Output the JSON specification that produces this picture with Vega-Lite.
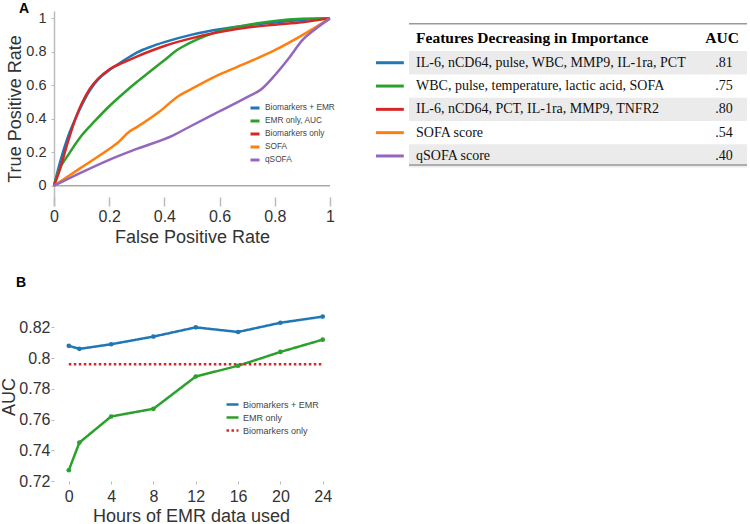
{
  "$schema": "https://vega.github.io/schema/vega-lite/v6.json",
  "padding": {"left": 0, "top": 2, "right": 0, "bottom": 0},
  "background": "white",
  "config": {
    "view": {"stroke": null},
    "font": "Liberation Sans",
    "axis": {"labelColor": "#333", "titleColor": "#333", "labelFont": "Liberation Sans", "titleFont": "Liberation Sans", "titleFontWeight": "normal", "grid": false, "labelFontSize": 16, "titleFontSize": 18, "labelOverlap": false},
    "title": {"fontSize": 14, "fontWeight": "bold", "anchor": "start", "frame": "group", "color": "#000", "font": "Liberation Sans"}
  },
  "datasets": {
    "roc": [
      {"model": "Biomarkers + EMR", "fpr": 0, "tpr": 0},
      {"model": "Biomarkers + EMR", "fpr": 0.02, "tpr": 0.13},
      {"model": "Biomarkers + EMR", "fpr": 0.05, "tpr": 0.29},
      {"model": "Biomarkers + EMR", "fpr": 0.08, "tpr": 0.41},
      {"model": "Biomarkers + EMR", "fpr": 0.1, "tpr": 0.48},
      {"model": "Biomarkers + EMR", "fpr": 0.13, "tpr": 0.57},
      {"model": "Biomarkers + EMR", "fpr": 0.16, "tpr": 0.635},
      {"model": "Biomarkers + EMR", "fpr": 0.2, "tpr": 0.69},
      {"model": "Biomarkers + EMR", "fpr": 0.25, "tpr": 0.745},
      {"model": "Biomarkers + EMR", "fpr": 0.3, "tpr": 0.795},
      {"model": "Biomarkers + EMR", "fpr": 0.35, "tpr": 0.83},
      {"model": "Biomarkers + EMR", "fpr": 0.4, "tpr": 0.858},
      {"model": "Biomarkers + EMR", "fpr": 0.5, "tpr": 0.903},
      {"model": "Biomarkers + EMR", "fpr": 0.6, "tpr": 0.935},
      {"model": "Biomarkers + EMR", "fpr": 0.7, "tpr": 0.958},
      {"model": "Biomarkers + EMR", "fpr": 0.8, "tpr": 0.976},
      {"model": "Biomarkers + EMR", "fpr": 0.9, "tpr": 0.99},
      {"model": "Biomarkers + EMR", "fpr": 1, "tpr": 1},
      {"model": "EMR only, AUC", "fpr": 0, "tpr": 0},
      {"model": "EMR only, AUC", "fpr": 0.02, "tpr": 0.1},
      {"model": "EMR only, AUC", "fpr": 0.05, "tpr": 0.18},
      {"model": "EMR only, AUC", "fpr": 0.1, "tpr": 0.3},
      {"model": "EMR only, AUC", "fpr": 0.15, "tpr": 0.39},
      {"model": "EMR only, AUC", "fpr": 0.2, "tpr": 0.475},
      {"model": "EMR only, AUC", "fpr": 0.25, "tpr": 0.55},
      {"model": "EMR only, AUC", "fpr": 0.3, "tpr": 0.62},
      {"model": "EMR only, AUC", "fpr": 0.35, "tpr": 0.685},
      {"model": "EMR only, AUC", "fpr": 0.4, "tpr": 0.75},
      {"model": "EMR only, AUC", "fpr": 0.45, "tpr": 0.815},
      {"model": "EMR only, AUC", "fpr": 0.5, "tpr": 0.86},
      {"model": "EMR only, AUC", "fpr": 0.55, "tpr": 0.895},
      {"model": "EMR only, AUC", "fpr": 0.6, "tpr": 0.925},
      {"model": "EMR only, AUC", "fpr": 0.7, "tpr": 0.96},
      {"model": "EMR only, AUC", "fpr": 0.8, "tpr": 0.985},
      {"model": "EMR only, AUC", "fpr": 0.9, "tpr": 0.997},
      {"model": "EMR only, AUC", "fpr": 1, "tpr": 1},
      {"model": "Biomarkers only", "fpr": 0, "tpr": 0},
      {"model": "Biomarkers only", "fpr": 0.02, "tpr": 0.09},
      {"model": "Biomarkers only", "fpr": 0.05, "tpr": 0.26},
      {"model": "Biomarkers only", "fpr": 0.08, "tpr": 0.41},
      {"model": "Biomarkers only", "fpr": 0.1, "tpr": 0.49},
      {"model": "Biomarkers only", "fpr": 0.13, "tpr": 0.58},
      {"model": "Biomarkers only", "fpr": 0.16, "tpr": 0.64},
      {"model": "Biomarkers only", "fpr": 0.2, "tpr": 0.695},
      {"model": "Biomarkers only", "fpr": 0.25, "tpr": 0.735},
      {"model": "Biomarkers only", "fpr": 0.3, "tpr": 0.772},
      {"model": "Biomarkers only", "fpr": 0.35, "tpr": 0.805},
      {"model": "Biomarkers only", "fpr": 0.4, "tpr": 0.835},
      {"model": "Biomarkers only", "fpr": 0.5, "tpr": 0.882},
      {"model": "Biomarkers only", "fpr": 0.6, "tpr": 0.918},
      {"model": "Biomarkers only", "fpr": 0.7, "tpr": 0.945},
      {"model": "Biomarkers only", "fpr": 0.8, "tpr": 0.962},
      {"model": "Biomarkers only", "fpr": 0.9, "tpr": 0.977},
      {"model": "Biomarkers only", "fpr": 1, "tpr": 1},
      {"model": "SOFA", "fpr": 0, "tpr": 0},
      {"model": "SOFA", "fpr": 0.1, "tpr": 0.11},
      {"model": "SOFA", "fpr": 0.2, "tpr": 0.22},
      {"model": "SOFA", "fpr": 0.23, "tpr": 0.255},
      {"model": "SOFA", "fpr": 0.27, "tpr": 0.32},
      {"model": "SOFA", "fpr": 0.3, "tpr": 0.35},
      {"model": "SOFA", "fpr": 0.38, "tpr": 0.44},
      {"model": "SOFA", "fpr": 0.45, "tpr": 0.535},
      {"model": "SOFA", "fpr": 0.5, "tpr": 0.58},
      {"model": "SOFA", "fpr": 0.6, "tpr": 0.665},
      {"model": "SOFA", "fpr": 0.7, "tpr": 0.735},
      {"model": "SOFA", "fpr": 0.8, "tpr": 0.81},
      {"model": "SOFA", "fpr": 0.9, "tpr": 0.9},
      {"model": "SOFA", "fpr": 1, "tpr": 1},
      {"model": "qSOFA", "fpr": 0, "tpr": 0},
      {"model": "qSOFA", "fpr": 0.1, "tpr": 0.08},
      {"model": "qSOFA", "fpr": 0.2, "tpr": 0.155},
      {"model": "qSOFA", "fpr": 0.3, "tpr": 0.22},
      {"model": "qSOFA", "fpr": 0.43, "tpr": 0.3},
      {"model": "qSOFA", "fpr": 0.5, "tpr": 0.36},
      {"model": "qSOFA", "fpr": 0.6, "tpr": 0.445},
      {"model": "qSOFA", "fpr": 0.7, "tpr": 0.53},
      {"model": "qSOFA", "fpr": 0.75, "tpr": 0.575},
      {"model": "qSOFA", "fpr": 0.8, "tpr": 0.66},
      {"model": "qSOFA", "fpr": 0.85, "tpr": 0.76},
      {"model": "qSOFA", "fpr": 0.9, "tpr": 0.87},
      {"model": "qSOFA", "fpr": 0.95, "tpr": 0.94},
      {"model": "qSOFA", "fpr": 1, "tpr": 1}
    ],
    "hours": [
      {"model": "Biomarkers + EMR", "hour": 0, "auc": 0.808},
      {"model": "Biomarkers + EMR", "hour": 1, "auc": 0.806},
      {"model": "Biomarkers + EMR", "hour": 4, "auc": 0.809},
      {"model": "Biomarkers + EMR", "hour": 8, "auc": 0.814},
      {"model": "Biomarkers + EMR", "hour": 12, "auc": 0.82},
      {"model": "Biomarkers + EMR", "hour": 16, "auc": 0.817},
      {"model": "Biomarkers + EMR", "hour": 20, "auc": 0.823},
      {"model": "Biomarkers + EMR", "hour": 24, "auc": 0.827},
      {"model": "EMR only", "hour": 0, "auc": 0.727},
      {"model": "EMR only", "hour": 1, "auc": 0.745},
      {"model": "EMR only", "hour": 4, "auc": 0.762},
      {"model": "EMR only", "hour": 8, "auc": 0.767},
      {"model": "EMR only", "hour": 12, "auc": 0.788},
      {"model": "EMR only", "hour": 16, "auc": 0.795},
      {"model": "EMR only", "hour": 20, "auc": 0.804},
      {"model": "EMR only", "hour": 24, "auc": 0.812},
      {"model": "Biomarkers only", "hour": 0, "auc": 0.796},
      {"model": "Biomarkers only", "hour": 24, "auc": 0.796}
    ],
    "table": [
      {"rank": 1, "model": "Biomarkers + EMR", "features": "IL-6, nCD64, pulse, WBC, MMP9, IL-1ra, PCT", "auc": ".81"},
      {"rank": 2, "model": "EMR only, AUC", "features": "WBC, pulse, temperature, lactic acid, SOFA", "auc": ".75"},
      {"rank": 3, "model": "Biomarkers only", "features": "IL-6, nCD64, PCT, IL-1ra, MMP9, TNFR2", "auc": ".80"},
      {"rank": 4, "model": "SOFA", "features": "SOFA score", "auc": ".54"},
      {"rank": 5, "model": "qSOFA", "features": "qSOFA score", "auc": ".40"}
    ]
  },
  "spacing": 29,
  "resolve": {"scale": {"color": "independent", "strokeDash": "independent", "x": "independent", "y": "independent"}, "legend": {"color": "independent", "strokeDash": "independent"}},
  "vconcat": [
    {
      "spacing": 39,
      "resolve": {"scale": {"color": "independent", "x": "independent", "y": "independent"}, "legend": {"color": "independent"}},
      "hconcat": [
        {
          "title": {"text": "A", "dx": -35, "offset": -6},
          "width": 276,
          "height": 195,
          "layer": [
            {
              "data": {"values": [{}]},
              "mark": {"type": "rule", "color": "#aaa", "strokeWidth": 1.5},
              "encoding": {"y": {"datum": 0, "type": "quantitative", "scale": {"domain": [-0.121, 1.044], "nice": false, "zero": false},
                "axis": {"title": "True Positive Rate", "values": [0, 0.2, 0.4, 0.6, 0.8, 1], "format": "~g", "domainColor": "#bbb", "domainWidth": 1.5, "tickSize": 3, "tickColor": "#bbb", "labelPadding": 5, "labelFontSize": 14.5, "titlePadding": 1, "labelFlush": false, "labelOverlap": false}}}
            },
            {
              "data": {"name": "roc"},
              "mark": {"type": "line", "strokeWidth": 2.5, "interpolate": "monotone"},
              "encoding": {
                "x": {"field": "fpr", "type": "quantitative", "scale": {"domain": [0, 1], "nice": false},
                  "axis": {"title": "False Positive Rate", "values": [0, 0.2, 0.4, 0.6, 0.8, 1], "format": "~g", "domain": false, "tickSize": 9, "offset": -9, "tickColor": "#bbb", "tickWidth": 1.5, "labelPadding": 2, "titlePadding": 4, "labelFlush": false, "labelOverlap": false}},
                "y": {"field": "tpr", "type": "quantitative", "scale": {"domain": [-0.121, 1.044], "nice": false, "zero": false},
                  "axis": {"title": "True Positive Rate", "values": [0, 0.2, 0.4, 0.6, 0.8, 1], "format": "~g", "domainColor": "#bbb", "domainWidth": 1.5, "tickSize": 3, "tickColor": "#bbb", "labelPadding": 5, "labelFontSize": 14.5, "titlePadding": 1, "labelFlush": false, "labelOverlap": false}},
                "color": {"field": "model", "type": "nominal",
                  "scale": {"domain": ["Biomarkers + EMR", "EMR only, AUC", "Biomarkers only", "SOFA", "qSOFA"], "range": ["#1f77b4", "#2ca02c", "#d62728", "#ff7f0e", "#9467bd"]},
                  "legend": {"orient": "none", "legendX": 195, "legendY": 91, "title": null, "labelFontSize": 8.3, "labelColor": "#444", "symbolType": "stroke", "symbolSize": 81, "symbolStrokeWidth": 3, "rowPadding": 1, "labelOffset": 4}}
              }
            }
          ]
        },
        {
          "width": 371,
          "height": 173.4,
          "layer": [
            {
              "data": {"name": "table"},
              "transform": [{"filter": "datum.rank % 2 == 1"}],
              "mark": {"type": "rect", "color": "#ebebeb"},
              "encoding": {
                "x": {"datum": 8.9, "type": "quantitative", "scale": {"domain": [0, 100], "nice": false}, "axis": null},
                "x2": {"datum": 100},
                "y": {"field": "rank", "type": "ordinal", "scale": {"domain": [0, 1, 2, 3, 4, 5], "paddingInner": 0, "paddingOuter": 0.72}, "axis": null}
              }
            },
            {
              "data": {"values": [{}]},
              "mark": {"type": "rule", "color": "#999", "strokeWidth": 1.5, "yOffset": -4},
              "encoding": {
                "x": {"datum": 8.9, "type": "quantitative"},
                "x2": {"datum": 100},
                "y": {"datum": 0, "type": "ordinal", "bandPosition": 0}
              }
            },
            {
              "data": {"values": [{}]},
              "mark": {"type": "rule", "color": "#999", "strokeWidth": 1.5, "yOffset": -2.5},
              "encoding": {
                "x": {"datum": 8.9, "type": "quantitative"},
                "x2": {"datum": 100},
                "y": {"datum": 5, "type": "ordinal", "bandPosition": 1}
              }
            },
            {
              "data": {"values": [{}]},
              "mark": {"type": "text", "align": "left", "baseline": "middle", "font": "Liberation Serif", "fontWeight": "bold", "fontSize": 15.5, "color": "#000", "yOffset": -1},
              "encoding": {
                "x": {"datum": 10.8, "type": "quantitative"},
                "y": {"datum": 0, "type": "ordinal"},
                "text": {"datum": "Features Decreasing in Importance"}
              }
            },
            {
              "data": {"values": [{}]},
              "mark": {"type": "text", "align": "center", "baseline": "middle", "font": "Liberation Serif", "fontWeight": "bold", "fontSize": 15.5, "color": "#000", "yOffset": -1},
              "encoding": {
                "x": {"datum": 93.3, "type": "quantitative"},
                "y": {"datum": 0, "type": "ordinal"},
                "text": {"datum": "AUC"}
              }
            },
            {
              "data": {"name": "table"},
              "mark": {"type": "rule", "strokeWidth": 3},
              "encoding": {
                "x": {"datum": 0, "type": "quantitative"},
                "x2": {"datum": 7.5},
                "y": {"field": "rank", "type": "ordinal"},
                "color": {"field": "model", "type": "nominal",
                  "scale": {"domain": ["Biomarkers + EMR", "EMR only, AUC", "Biomarkers only", "SOFA", "qSOFA"], "range": ["#1f77b4", "#2ca02c", "#d62728", "#ff7f0e", "#9467bd"]},
                  "legend": null}
              }
            },
            {
              "data": {"name": "table"},
              "mark": {"type": "text", "align": "left", "baseline": "middle", "font": "Liberation Serif", "fontSize": 14, "color": "#111"},
              "encoding": {
                "x": {"datum": 10.8, "type": "quantitative"},
                "y": {"field": "rank", "type": "ordinal"},
                "text": {"field": "features"}
              }
            },
            {
              "data": {"name": "table"},
              "mark": {"type": "text", "align": "center", "baseline": "middle", "font": "Liberation Serif", "fontSize": 14, "color": "#111"},
              "encoding": {
                "x": {"datum": 93.8, "type": "quantitative"},
                "y": {"field": "rank", "type": "ordinal"},
                "text": {"field": "auc"}
              }
            }
          ]
        }
      ]
    },
    {
      "title": {"text": "B", "dx": -38, "offset": 22},
      "width": 274,
      "height": 169,
      "data": {"name": "hours"},
      "encoding": {
        "x": {"field": "hour", "type": "quantitative", "scale": {"domain": [-1.4, 24.5], "nice": false, "zero": false},
          "axis": {"title": "Hours of EMR data used", "values": [0, 4, 8, 12, 16, 20, 24], "domain": false, "tickSize": 3, "tickColor": "#bbb", "labelPadding": 4, "titlePadding": 3}},
        "y": {"field": "auc", "type": "quantitative", "scale": {"domain": [0.72, 0.83], "nice": false, "zero": false},
          "axis": {"title": "AUC", "values": [0.72, 0.74, 0.76, 0.78, 0.8, 0.82], "format": "~g", "domain": false, "tickSize": 3, "tickColor": "#bbb", "labelPadding": 1, "labelFontSize": 16, "titlePadding": 0}},
        "color": {"field": "model", "type": "nominal",
          "scale": {"domain": ["Biomarkers + EMR", "EMR only", "Biomarkers only"], "range": ["#1f77b4", "#2ca02c", "#d62728"]},
          "legend": {"orient": "none", "legendX": 171, "legendY": 85, "title": null, "labelFontSize": 9, "labelColor": "#444", "symbolType": "stroke", "symbolSize": 144, "symbolStrokeWidth": 2.5, "rowPadding": 0, "labelOffset": 3}}
      },
      "layer": [
        {
          "mark": {"type": "line", "strokeWidth": 2.5},
          "encoding": {
            "strokeDash": {"field": "model", "type": "nominal",
              "scale": {"domain": ["Biomarkers + EMR", "EMR only", "Biomarkers only"], "range": [[1, 0], [1, 0], [2.5, 2.5]]},
              "legend": {"orient": "none", "legendX": 171, "legendY": 85, "title": null, "labelFontSize": 9, "labelColor": "#444", "symbolType": "stroke", "symbolSize": 144, "symbolStrokeWidth": 2.5, "rowPadding": 0, "labelOffset": 3}}
          }
        },
        {
          "transform": [{"filter": "datum.model != 'Biomarkers only'"}],
          "mark": {"type": "point", "filled": true, "size": 22, "opacity": 1}
        }
      ]
    }
  ]
}
